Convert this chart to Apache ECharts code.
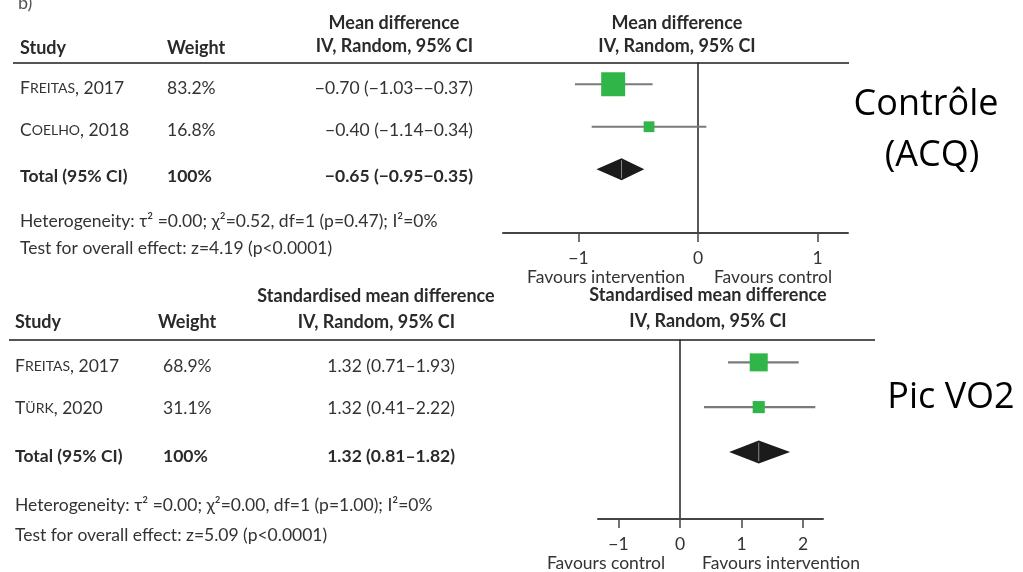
<!DOCTYPE html>
<html><head><meta charset="utf-8">
<script src="https://cdn.jsdelivr.net/npm/echarts@6/dist/echarts.min.js"></script>
<style>html,body{margin:0;padding:0;background:#fff}#c{width:1023px;height:572px}</style>
</head><body><div id="c"></div>
<script>
// ---------- Panel b) : ACQ (Mean difference) ----------
const acqSurnames = ['Freitas', 'Coelho'];
const acqYears = ['2017', '2018'];
const acqWeights = [83.2, 16.8];
const acqWeightLabels = ['83.2%', '16.8%', '100%'];
const acqCiText = ['−0.70 (−1.03−−0.37)', '−0.40 (−1.14−0.34)', '−0.65 (−0.95−0.35)'];
const acqEst = [-0.71, -0.41];
const acqLow = [-1.03, -0.89];
const acqHigh = [-0.38, 0.07];
const acqTotal = [-0.85, -0.64, -0.45]; // low, estimate, high (diamond)
const acqTicks = [-1, 0, 1];
const acqHet = 'Heterogeneity: τ² =0.00; χ²=0.52, df=1 (p=0.47); I²=0%';
const acqTest = 'Test for overall effect: z=4.19 (p<0.0001)';
const acqFavours = ['Favours intervention', 'Favours control'];

// ---------- Panel c) : Pic VO2 (Standardised mean difference) ----------
const vo2Surnames = ['Freitas', 'Türk'];
const vo2Years = ['2017', '2020'];
const vo2Weights = [68.9, 31.1];
const vo2WeightLabels = ['68.9%', '31.1%', '100%'];
const vo2CiText = ['1.32 (0.71–1.93)', '1.32 (0.41–2.22)', '1.32 (0.81–1.82)'];
const vo2Est = [1.28, 1.28];
const vo2Low = [0.78, 0.39];
const vo2High = [1.93, 2.20];
const vo2Total = [0.80, 1.28, 1.79];
const vo2Ticks = [-1, 0, 1, 2];
const vo2Het = 'Heterogeneity: τ² =0.00; χ²=0.00, df=1 (p=1.00); I²=0%';
const vo2Test = 'Test for overall effect: z=5.09 (p<0.0001)';
const vo2Favours = ['Favours control', 'Favours intervention'];

const rowCats = ['s1', 's2', 'total', 'blank'];

const FONT = 'Lato';
const TXT = '#333';
const FS = 17.5;   // body text
const HS = 18;     // bold headers
const chart = echarts.init(document.getElementById('c'));

function smallCaps(name, year) {
  return '{a|' + name[0].toUpperCase() + '}{b|' + name.slice(1).toUpperCase() + '}{a|, ' + year + '}';
}
function text(x, y, str, opts) {
  opts = opts || {};
  return {
    type: 'text', silent: true, z: 10,
    style: Object.assign({
      x: x, y: y, text: str, fill: TXT, fontFamily: FONT, fontSize: FS,
      textAlign: 'left', textVerticalAlign: 'middle'
    }, opts)
  };
}
function hline(x1, x2, y) {
  return { type: 'line', silent: true, shape: { x1: x1, y1: y, x2: x2, y2: y }, style: { stroke: '#555', lineWidth: 2 } };
}
const rich = {
  a: { fontFamily: FONT, fontSize: FS, fill: TXT, color: TXT },
  b: { fontFamily: FONT, fontSize: 14, fill: TXT, color: TXT }
};
const bold = { fontWeight: 'bold', fontSize: HS, fill: '#2a2a2a' };

const graphics = [];
// panel b text
graphics.push(text(18, 3, 'b)', { fill: '#555', fontSize: 18 }));
graphics.push(text(394, 23, 'Mean difference', Object.assign({ textAlign: 'center' }, bold)));
graphics.push(text(20, 48, 'Study', bold));
graphics.push(text(167, 48, 'Weight', bold));
graphics.push(text(473, 46, 'IV, Random, 95% CI', Object.assign({ textAlign: 'right' }, bold)));
graphics.push(text(677, 23, 'Mean difference', Object.assign({ textAlign: 'center' }, bold)));
graphics.push(text(677, 46, 'IV, Random, 95% CI', Object.assign({ textAlign: 'center' }, bold)));
graphics.push(hline(13, 849, 63));
const acqRowY = [88, 130, 176];
for (let i = 0; i < 2; i++) {
  graphics.push(text(20, acqRowY[i], smallCaps(acqSurnames[i], acqYears[i]), { rich: rich }));
}
graphics.push(text(20, acqRowY[2], 'Total (95% CI)', { fontWeight: 'bold', fill: '#2a2a2a' }));
for (let i = 0; i < 3; i++) {
  const b = i === 2 ? { fontWeight: 'bold', fill: '#2a2a2a' } : {};
  graphics.push(text(167, acqRowY[i], acqWeightLabels[i], b));
  graphics.push(text(473, acqRowY[i], acqCiText[i], Object.assign({ textAlign: 'right' }, b)));
}
graphics.push(text(20, 221, acqHet));
graphics.push(text(20, 248, acqTest));
graphics.push(text(606, 277, acqFavours[0], { textAlign: 'center' }));
graphics.push(text(773, 277, acqFavours[1], { textAlign: 'center' }));
graphics.push(text(926, 105, 'Contrôle', { fontFamily: 'Open Sans', fontSize: 36, fill: '#000', textAlign: 'center' }));
graphics.push(text(932, 156, '(ACQ)', { fontFamily: 'Open Sans', fontSize: 36, fill: '#000', textAlign: 'center' }));

// panel c text
graphics.push(text(376, 296, 'Standardised mean difference', Object.assign({ textAlign: 'center' }, bold)));
graphics.push(text(15, 322, 'Study', bold));
graphics.push(text(158, 322, 'Weight', bold));
graphics.push(text(455, 322, 'IV, Random, 95% CI', Object.assign({ textAlign: 'right' }, bold)));
graphics.push(text(708, 295, 'Standardised mean difference', Object.assign({ textAlign: 'center' }, bold)));
graphics.push(text(708, 321, 'IV, Random, 95% CI', Object.assign({ textAlign: 'center' }, bold)));
graphics.push(hline(9, 875, 340));
const vo2RowY = [366, 408, 456];
for (let i = 0; i < 2; i++) {
  graphics.push(text(15, vo2RowY[i], smallCaps(vo2Surnames[i], vo2Years[i]), { rich: rich }));
}
graphics.push(text(15, vo2RowY[2], 'Total (95% CI)', { fontWeight: 'bold', fill: '#2a2a2a' }));
for (let i = 0; i < 3; i++) {
  const b = i === 2 ? { fontWeight: 'bold', fill: '#2a2a2a' } : {};
  graphics.push(text(163, vo2RowY[i], vo2WeightLabels[i], b));
  graphics.push(text(455, vo2RowY[i], vo2CiText[i], Object.assign({ textAlign: 'right' }, b)));
}
graphics.push(text(15, 505, vo2Het));
graphics.push(text(15, 535, vo2Test));
graphics.push(text(606, 563, vo2Favours[0], { textAlign: 'center' }));
graphics.push(text(781, 563, vo2Favours[1], { textAlign: 'center' }));
graphics.push(text(951, 398, 'Pic VO2', { fontFamily: 'Open Sans', fontSize: 36, fill: '#000', textAlign: 'center' }));

function xAxisFor(idx, min, max, ticks) {
  return {
    type: 'value', gridIndex: idx, min: min, max: max,
    splitLine: { show: false },
    axisLine: { show: true, lineStyle: { color: '#444', width: 2 } },
    axisTick: { show: true, customValues: ticks, length: 9, inside: false, lineStyle: { color: '#444', width: 1.5 } },
    axisLabel: {
      customValues: ticks, margin: 16, color: TXT, fontFamily: FONT, fontSize: FS,
      formatter: v => String(v).replace('-', '−')
    }
  };
}
function yAxisFor(idx) {
  return {
    type: 'category', gridIndex: idx, data: rowCats, inverse: true,
    axisLine: { show: true, onZero: true, lineStyle: { color: '#222', width: 1.5 } },
    axisTick: { show: false }, axisLabel: { show: false }, splitLine: { show: false }
  };
}
function ciSeries(idx, low, high) {
  return {
    type: 'custom', xAxisIndex: idx, yAxisIndex: idx, z: 3,
    data: low.map((l, i) => [l, high[i], i]),
    encode: { x: [0, 1], y: 2 },
    renderItem: function (params, api) {
      const p1 = api.coord([api.value(0), api.value(2)]);
      const p2 = api.coord([api.value(1), api.value(2)]);
      return { type: 'line', shape: { x1: p1[0], y1: p1[1], x2: p2[0], y2: p2[1] }, style: { stroke: '#7a7a7a', lineWidth: 2.2 } };
    }
  };
}
function squareSeries(idx, est, weights, factor) {
  return {
    type: 'scatter', xAxisIndex: idx, yAxisIndex: idx, z: 4,
    symbol: 'rect',
    data: est.map((e, i) => [e, i, weights[i]]),
    symbolSize: v => factor * Math.sqrt(v[2]),
    itemStyle: { color: '#2fb548', opacity: 1 },
    emphasis: { disabled: true }
  };
}
function diamondSeries(idx, total, halfH) {
  return {
    type: 'custom', xAxisIndex: idx, yAxisIndex: idx, z: 4,
    data: [[total[0], total[1], total[2], 2]],
    encode: { x: [0, 1, 2], y: 3 },
    renderItem: function (params, api) {
      const l = api.coord([api.value(0), api.value(3)]);
      const c = api.coord([api.value(1), api.value(3)]);
      const r = api.coord([api.value(2), api.value(3)]);
      return {
        type: 'group', children: [
          { type: 'polygon', shape: { points: [[l[0], l[1]], [c[0], c[1] - halfH], [r[0], r[1]], [c[0], c[1] + halfH]] }, style: { fill: '#1b1b1b' } },
          { type: 'line', shape: { x1: c[0], y1: c[1] - halfH + 2, x2: c[0], y2: c[1] + halfH - 2 }, style: { stroke: '#8a8a8a', lineWidth: 1 } }
        ]
      };
    }
  };
}

chart.setOption({
  animation: false,
  backgroundColor: '#fff',
  textStyle: { fontFamily: FONT },
  grid: [
    { left: 503, right: 1023 - 848, top: 63, height: 170 },
    { left: 598, right: 1023 - 823, top: 340, height: 179 }
  ],
  xAxis: [xAxisFor(0, -1.632, 1.255, acqTicks), xAxisFor(1, -1.333, 2.325, vo2Ticks)],
  yAxis: [yAxisFor(0), yAxisFor(1)],
  series: [
    ciSeries(0, acqLow, acqHigh),
    squareSeries(0, acqEst, acqWeights, 2.63),
    diamondSeries(0, acqTotal, 11),
    ciSeries(1, vo2Low, vo2High),
    squareSeries(1, vo2Est, vo2Weights, 2.17),
    diamondSeries(1, vo2Total, 11.5)
  ],
  graphic: graphics
});
</script></body></html>
